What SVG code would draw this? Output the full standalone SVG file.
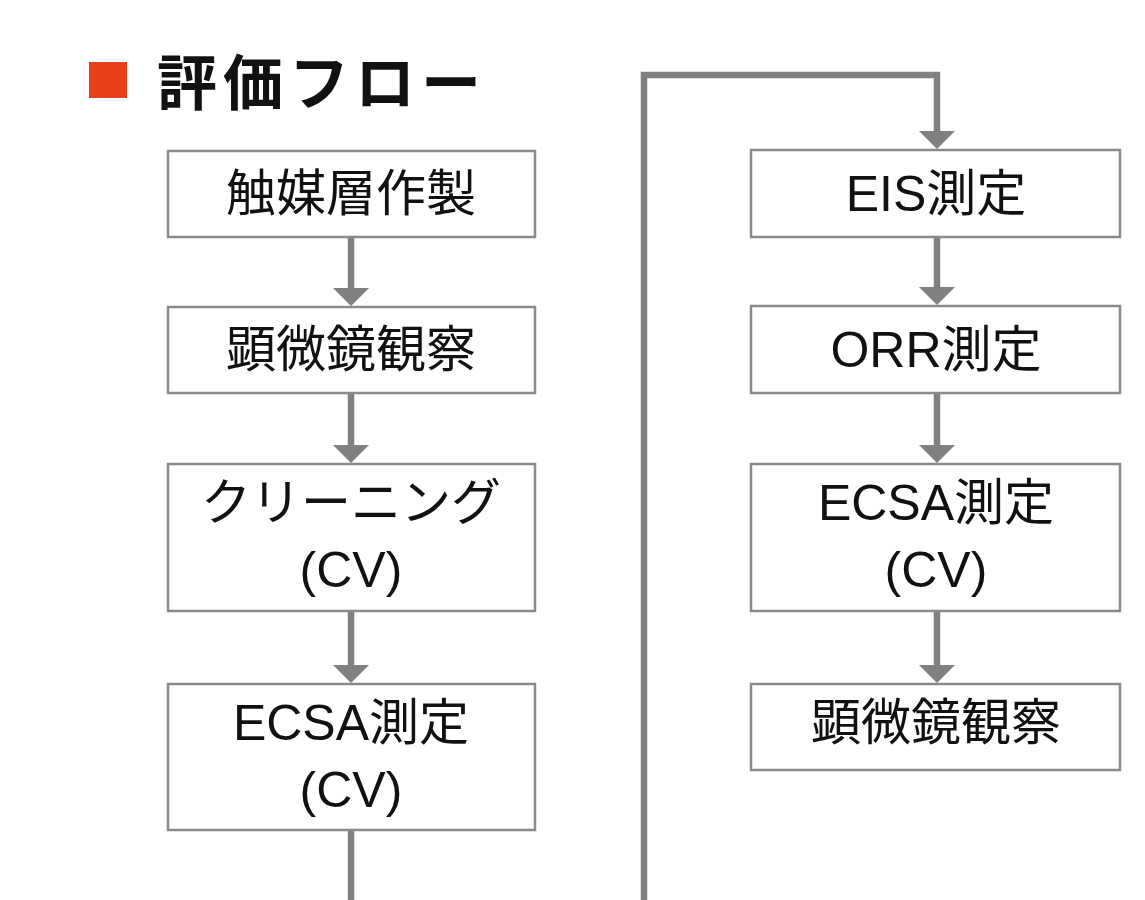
<svg xmlns="http://www.w3.org/2000/svg" width="1145" height="900" viewBox="0 0 1145 900">
<style>
.box{fill:#fff;stroke:#8a8a8a;stroke-width:2.5}
.t{font-family:"Liberation Sans","Noto Sans CJK JP",sans-serif;font-size:50px;fill:#111;text-anchor:middle}
.c{stroke:#808080;stroke-width:6.5;fill:none}
.title{font-family:"Noto Sans CJK JP",sans-serif;font-size:60px;font-weight:bold;fill:#111;letter-spacing:6px}
</style>
<rect width="1145" height="900" fill="#fff"/>
<g id="title">
<rect x="89" y="62" width="38" height="36" fill="#e8401c"/>
<text class="title" x="157" y="105">評価フロー</text>
</g>
<g id="connectors">
<line class="c" x1="351" y1="238" x2="351" y2="290"/>
<path d="M333,288 L369,288 L351,306 Z" fill="#808080"/>
<line class="c" x1="351" y1="394" x2="351" y2="447"/>
<path d="M333,445 L369,445 L351,463 Z" fill="#808080"/>
<line class="c" x1="351" y1="612" x2="351" y2="667"/>
<path d="M333,665 L369,665 L351,683 Z" fill="#808080"/>
<line class="c" x1="351" y1="831" x2="351" y2="900"/>
<path class="c" d="M644,900 L644,75 L937,75 L937,133"/>
<path d="M919,131 L955,131 L937,149 Z" fill="#808080"/>
<line class="c" x1="937" y1="238" x2="937" y2="289"/>
<path d="M919,287 L955,287 L937,305 Z" fill="#808080"/>
<line class="c" x1="937" y1="394" x2="937" y2="447"/>
<path d="M919,445 L955,445 L937,463 Z" fill="#808080"/>
<line class="c" x1="937" y1="612" x2="937" y2="667"/>
<path d="M919,665 L955,665 L937,683 Z" fill="#808080"/>
</g>
<g id="n1"><rect class="box" x="168" y="151" width="367" height="86"/><text class="t" x="351" y="211">触媒層作製</text></g>
<g id="n2"><rect class="box" x="168" y="307" width="367" height="86"/><text class="t" x="351" y="367">顕微鏡観察</text></g>
<g id="n3"><rect class="box" x="168" y="464" width="367" height="147"/><text class="t" x="351" y="520">クリーニング</text><text class="t" x="351" y="587">(CV)</text></g>
<g id="n4"><rect class="box" x="168" y="684" width="367" height="146"/><text class="t" x="351" y="740">ECSA測定</text><text class="t" x="351" y="807">(CV)</text></g>
<g id="n5"><rect class="box" x="751" y="150" width="369" height="87"/><text class="t" x="936" y="211">EIS測定</text></g>
<g id="n6"><rect class="box" x="751" y="306" width="369" height="87"/><text class="t" x="936" y="367">ORR測定</text></g>
<g id="n7"><rect class="box" x="751" y="464" width="369" height="147"/><text class="t" x="936" y="520">ECSA測定</text><text class="t" x="936" y="587">(CV)</text></g>
<g id="n8"><rect class="box" x="751" y="684" width="369" height="86"/><text class="t" x="936" y="740">顕微鏡観察</text></g>
</svg>
